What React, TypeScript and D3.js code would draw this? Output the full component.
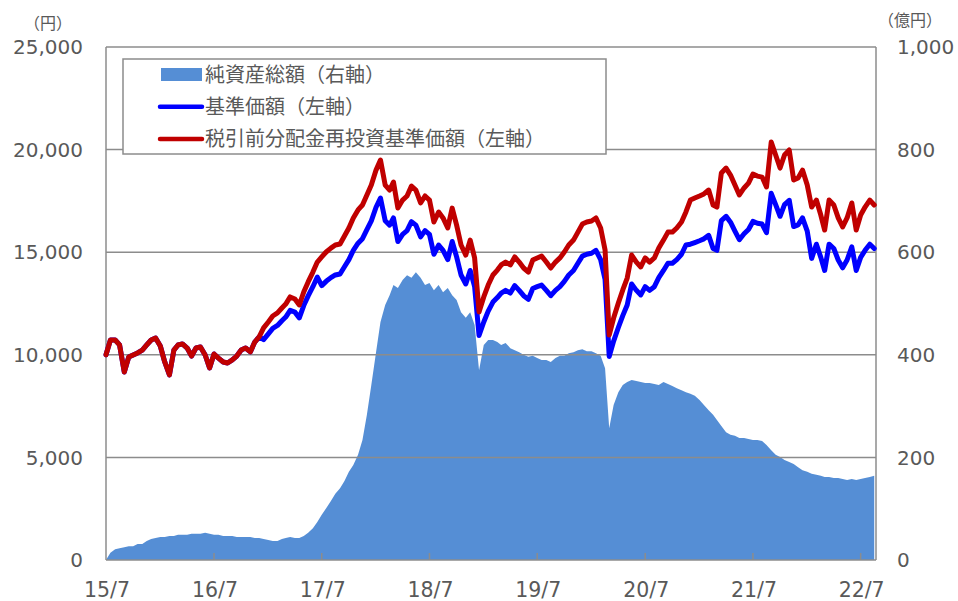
import { useEffect, useRef } from "react";
import * as d3 from "d3";

// observation dates: 1st and 16th of each month, 2015/7 - 2022/8
const months = d3.utcMonths(new Date(Date.UTC(2015, 6, 1)), new Date(Date.UTC(2022, 8, 1)));
const dates = months.flatMap((m) => [m, d3.utcDay.offset(m, 15)]);

// 税引前分配金再投資基準価額 (円)
const navReinvested = [
  10000, 10720, 10720, 10480, 9160, 9890, 9990, 10090, 10230, 10480,
  10720, 10820, 10430, 9650, 9020, 10230, 10480, 10530, 10330, 9940,
  10330, 10380, 9990, 9360, 10040, 9840, 9650, 9600, 9750, 9940,
  10230, 10330, 10140, 10620, 10870, 11310, 11600, 11890, 12040, 12280,
  12470, 12820, 12720, 12430, 13060, 13550, 14030, 14520, 14770, 15010,
  15200, 15350, 15400, 15790, 16180, 16670, 17060, 17300, 17790, 18270,
  19000, 19490, 18270, 18030, 18420, 17150, 17540, 17740, 18220, 18030,
  17400, 17740, 17540, 16470, 16960, 16670, 16180, 17150, 16320, 15350,
  14860, 15590, 14720, 12090, 12820, 13400, 13890, 14130, 14380, 14520,
  14380, 14770, 14520, 14230, 14030, 14620, 14720, 14810, 14520, 14230,
  14520, 14720, 15010, 15350, 15590, 15980, 16370, 16470, 16520, 16670,
  16180, 15110, 10960, 11790, 12520, 13160, 13740, 14860, 14520, 14280,
  14720, 14520, 14720, 15200, 15590, 15980, 15980, 16180, 16470, 16960,
  17540, 17640, 17740, 17840, 18030, 17300, 17200, 18860, 19100, 18760,
  18270, 17790, 18130, 18370, 18810, 18710, 18660, 18180, 20370, 19740,
  19100, 19740, 19980, 18520, 18620, 19000, 18270, 17200, 17540, 16810,
  16080, 17540, 17300, 16670, 16230, 16670, 17400, 16080, 16810, 17200,
  17540, 17300,
];

// 基準価額 (円)
const nav = [
  10000, 10720, 10720, 10480, 9160, 9890, 9990, 10090, 10230, 10480,
  10720, 10820, 10430, 9650, 9020, 10230, 10480, 10530, 10330, 9940,
  10330, 10380, 9990, 9360, 10040, 9840, 9650, 9600, 9750, 9940,
  10230, 10330, 10140, 10620, 10870, 10740, 11020, 11290, 11430, 11660,
  11840, 12170, 12080, 11800, 12400, 12870, 13320, 13790, 13370, 13580,
  13760, 13890, 13940, 14290, 14640, 15090, 15440, 15660, 16100, 16530,
  17190, 17640, 16530, 16320, 16670, 15520, 15870, 16050, 16490, 16320,
  15750, 16050, 15870, 14900, 15350, 15090, 14640, 15520, 14770, 13890,
  13450, 14110, 13320, 10940, 11600, 12130, 12570, 12790, 13010, 13140,
  13010, 13370, 13140, 12880, 12700, 13230, 13320, 13400, 13140, 12880,
  13140, 13320, 13580, 13890, 14110, 14460, 14810, 14900, 14950, 15090,
  14640, 13670, 9920, 10670, 11330, 11910, 12430, 13450, 13140, 12920,
  13320, 13140, 13320, 13760, 14110, 14460, 14460, 14640, 14900, 15350,
  15390, 15470, 15560, 15650, 15820, 15180, 15090, 16540, 16750, 16460,
  16030, 15610, 15900, 16110, 16500, 16410, 16370, 15950, 17870, 17320,
  16750, 17320, 17530, 16250, 16330, 16670, 16030, 14700, 15390, 14750,
  14110, 15390, 15180, 14620, 14240, 14620, 15260, 14110, 14750, 15090,
  15390, 15180,
];

// 純資産総額 (億円)
const netAssets = [
  0, 14, 21, 23, 25, 27, 27, 31, 31, 37,
  41, 43, 45, 45, 47, 47, 49, 49, 49, 51,
  51, 51, 53, 51, 49, 49, 47, 47, 47, 45,
  45, 45, 45, 43, 43, 41, 39, 37, 37, 41,
  43, 45, 43, 43, 47, 53, 62, 74, 88, 101,
  115, 129, 140, 154, 172, 185, 205, 234, 283, 341,
  405, 464, 497, 516, 536, 530, 546, 555, 550, 561,
  550, 536, 540, 526, 536, 522, 530, 516, 507, 483,
  472, 483, 458, 370, 419, 429, 429, 425, 419, 423,
  413, 409, 405, 400, 396, 398, 394, 390, 390, 386,
  394, 398, 398, 403, 405, 409, 411, 407, 407, 403,
  398, 374, 257, 302, 327, 341, 347, 351, 349, 347,
  345, 345, 343, 341, 347, 343, 339, 335, 331, 327,
  324, 320, 312, 302, 292, 283, 273, 261, 249, 244,
  242, 238, 238, 236, 234, 234, 232, 224, 214, 205,
  201, 195, 191, 187, 181, 175, 172, 168, 166, 164,
  162, 162, 160, 160, 158, 156, 158, 156, 158, 160,
  162, 164,
];

const leftTicks = [0, 5000, 10000, 15000, 20000, 25000];
const rightTicks = [0, 200, 400, 600, 800, 1000];
const xTickLabels = ["15/7", "16/7", "17/7", "18/7", "19/7", "20/7", "21/7", "22/7"];

const legendItems = [
  { label: "純資産総額（右軸）", kind: "area", color: "#558ED5" },
  { label: "基準価額（左軸）", kind: "line", color: "#0000FF" },
  { label: "税引前分配金再投資基準価額（左軸）", kind: "line", color: "#C00000" },
];

export default function App() {
  const ref = useRef<SVGSVGElement>(null);

  useEffect(() => {
    const width = 958;
    const height = 601;
    const left = 106;
    const right = 876;
    const top = 47;
    const bottom = 560;
    const textColor = "#595959";
    const gridColor = "#8C8C8C";
    const numFont = "'DejaVu Sans', Verdana, sans-serif";
    const jpFont = "'Noto Sans CJK JP', sans-serif";

    const svg = d3.select(ref.current);
    svg.selectAll("*").remove();
    svg.attr("width", width).attr("height", height).attr("viewBox", [0, 0, width, height]);

    const x = d3.scaleUtc()
      .domain([new Date(Date.UTC(2015, 6, 1)), new Date(Date.UTC(2022, 7, 22))])
      .range([left, right]);
    const yL = d3.scaleLinear().domain([0, 25000]).range([bottom, top]);
    const yR = d3.scaleLinear().domain([0, 1000]).range([bottom, top]);

    // net assets area (right axis)
    svg.append("path")
      .datum(netAssets)
      .attr("fill", "#558ED5")
      .attr("d", d3.area<number>()
        .x((d, i) => x(dates[i]))
        .y0(bottom)
        .y1((d) => yR(d)));

    // gridlines
    svg.append("g")
      .selectAll("line")
      .data(leftTicks.slice(1))
      .join("line")
      .attr("x1", left)
      .attr("x2", right)
      .attr("y1", (d) => yL(d))
      .attr("y2", (d) => yL(d))
      .attr("stroke", gridColor)
      .attr("stroke-width", 1.5);

    // frame
    svg.append("line").attr("x1", left).attr("x2", left).attr("y1", top).attr("y2", bottom)
      .attr("stroke", gridColor).attr("stroke-width", 1.5);
    svg.append("line").attr("x1", right).attr("x2", right).attr("y1", top).attr("y2", bottom)
      .attr("stroke", gridColor).attr("stroke-width", 1.5);
    svg.append("line").attr("x1", left).attr("x2", right).attr("y1", bottom).attr("y2", bottom)
      .attr("stroke", gridColor).attr("stroke-width", 1.5);

    // lines
    const line = (values: number[]) =>
      d3.line<number>().x((d, i) => x(dates[i])).y((d) => yL(d))(values);

    svg.append("path")
      .attr("d", line(nav))
      .attr("fill", "none")
      .attr("stroke", "#0000FF")
      .attr("stroke-width", 5)
      .attr("stroke-linejoin", "round")
      .attr("stroke-linecap", "round");

    svg.append("path")
      .attr("d", line(navReinvested))
      .attr("fill", "none")
      .attr("stroke", "#C00000")
      .attr("stroke-width", 5)
      .attr("stroke-linejoin", "round")
      .attr("stroke-linecap", "round");

    // x ticks + labels
    const xTicks = xTickLabels.map((t) => new Date(Date.UTC(2000 + +t.split("/")[0], +t.split("/")[1] - 1, 1)));
    svg.append("g")
      .selectAll("line")
      .data(xTicks.slice(1))
      .join("line")
      .attr("x1", (d) => x(d))
      .attr("x2", (d) => x(d))
      .attr("y1", bottom)
      .attr("y2", bottom - 7)
      .attr("stroke", gridColor)
      .attr("stroke-width", 1.5);

    svg.append("g")
      .attr("font-family", numFont)
      .attr("font-size", 20.5)
      .attr("fill", textColor)
      .attr("text-anchor", "middle")
      .selectAll("text")
      .data(xTicks)
      .join("text")
      .attr("x", (d) => x(d) + 1)
      .attr("y", 597)
      .text((d, i) => xTickLabels[i]);

    // y labels
    svg.append("g")
      .attr("font-family", numFont)
      .attr("font-size", 20)
      .attr("fill", textColor)
      .attr("text-anchor", "end")
      .selectAll("text")
      .data(leftTicks)
      .join("text")
      .attr("x", 83)
      .attr("y", (d) => yL(d))
      .attr("dy", "0.36em")
      .text((d) => d3.format(",")(d));

    svg.append("g")
      .attr("font-family", numFont)
      .attr("font-size", 20)
      .attr("fill", textColor)
      .attr("text-anchor", "start")
      .selectAll("text")
      .data(rightTicks)
      .join("text")
      .attr("x", 897)
      .attr("y", (d) => yR(d))
      .attr("dy", "0.36em")
      .text((d) => d3.format(",")(d));

    // units
    svg.append("text")
      .attr("x", 48).attr("y", 29)
      .attr("text-anchor", "middle")
      .attr("font-family", jpFont).attr("font-size", 16).attr("fill", textColor)
      .text("（円）");
    svg.append("text")
      .attr("x", 910).attr("y", 26)
      .attr("text-anchor", "middle")
      .attr("font-family", jpFont).attr("font-size", 16).attr("fill", textColor)
      .text("（億円）");

    // legend
    const legend = svg.append("g");
    legend.append("rect")
      .attr("x", 123).attr("y", 59).attr("width", 483).attr("height", 95)
      .attr("fill", "white").attr("stroke", gridColor).attr("stroke-width", 1.5);

    const rows = legend.selectAll("g")
      .data(legendItems)
      .join("g")
      .attr("transform", (d, i) => `translate(0,${74.5 + i * 32.3})`);

    rows.filter((d) => d.kind === "area")
      .append("rect")
      .attr("x", 161).attr("y", -6.5).attr("width", 41).attr("height", 13)
      .attr("fill", (d) => d.color);

    rows.filter((d) => d.kind === "line")
      .append("line")
      .attr("x1", 160).attr("x2", 202).attr("y1", 0).attr("y2", 0)
      .attr("stroke", (d) => d.color).attr("stroke-width", 4.5).attr("stroke-linecap", "round");

    rows.append("text")
      .attr("x", 205)
      .attr("dy", "0.36em")
      .attr("font-family", jpFont)
      .attr("font-size", 20)
      .attr("fill", textColor)
      .text((d) => d.label);
  }, []);

  return <svg ref={ref} style={{ position: "absolute", left: 0, top: 0 }}></svg>;
}
